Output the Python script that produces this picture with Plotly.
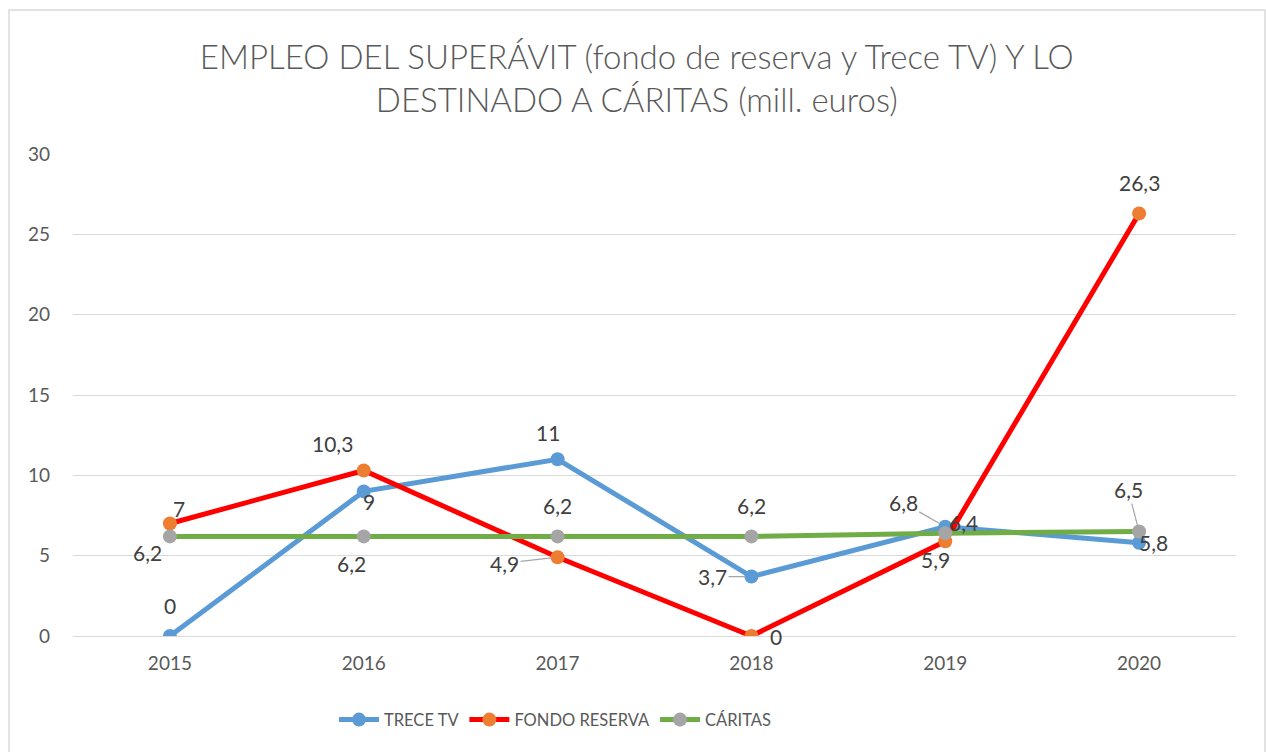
import plotly.graph_objects as go

years = ["2015", "2016", "2017", "2018", "2019", "2020"]
trece_tv = [0, 9, 11, 3.7, 6.8, 5.8]
fondo_reserva = [7, 10.3, 4.9, 0, 5.9, 26.3]
caritas = [6.2, 6.2, 6.2, 6.2, 6.4, 6.5]
series_names = ["TRECE TV", "FONDO RESERVA", "CÁRITAS"]
y_ticks = [0, 5, 10, 15, 20, 25, 30]

line_colors = ["#5B9BD5", "#FF0000", "#70AD47"]
marker_colors = ["#5B9BD5", "#ED7D31", "#A5A5A5"]

# label offsets in screen pixels (dx right, dy down), and whether a leader line is drawn
label_offsets = [
    [(0, -31, False), (5, 10, False), (-10, -27, False), (-39, 0, True), (-42, -24, True), (14, 0, False)],
    [(9, -15, False), (-31, -27, False), (-53, 6, True), (25, 0, False), (-10, 18, False), (0, -31, False)],
    [(-22, 16, False), (-12, 27, False), (0, -31, False), (0, -31, False), (18, -11, False), (-11, -42, True)],
]

FONT = "Lato, 'Open Sans', sans-serif"
fig = go.Figure()
all_series = [trece_tv, fondo_reserva, caritas]
for name, vals, lc, mc in zip(series_names, all_series, line_colors, marker_colors):
    fig.add_trace(go.Scatter(
        x=years, y=vals, name=name, mode="lines+markers",
        line=dict(color=lc, width=5),
        marker=dict(color=mc, size=14),
    ))

for vals, offs in zip(all_series, label_offsets):
    for i, (v, (dx, dy, leader)) in enumerate(zip(vals, offs)):
        txt = f"{v:g}".replace(".", ",")
        if leader:
            fig.add_annotation(
                x=i, y=v, xref="x", yref="y", text=txt, showarrow=True,
                ax=dx, ay=dy, axref="pixel", ayref="pixel",
                arrowhead=0, arrowwidth=1.2, arrowcolor="#A6A6A6",
                standoff=6, font=dict(family=FONT, size=21, color="#404040"),
            )
        else:
            fig.add_annotation(
                x=i, y=v, xref="x", yref="y", text=txt, showarrow=False,
                xshift=dx, yshift=-dy, font=dict(family=FONT, size=21, color="#404040"),
            )

fig.update_layout(
    width=1266, height=752,
    margin=dict(l=73, r=30, t=154, b=116),
    paper_bgcolor="white", plot_bgcolor="white",
    font=dict(family=FONT, color="#595959"),
    title=dict(
        text="EMPLEO DEL SUPERÁVIT (fondo de reserva y Trece TV) Y LO<br>DESTINADO A CÁRITAS (mill. euros)",
        x=0.503, xref="container", xanchor="center",
        y=1 - 69 / 752, yref="container", yanchor="middle",
        font=dict(family=FONT, size=33, color="#595959", weight=300),
    ),
    showlegend=True,
    legend=dict(
        orientation="h", x=(555 - 73) / 1163, xanchor="center", y=-0.174, yanchor="middle",
        font=dict(family=FONT, size=16.5, color="#595959"),
        itemwidth=40,
    ),
    shapes=[dict(
        type="rect", xref="paper", yref="paper",
        x0=(9 - 73) / 1163, x1=(1265 - 73) / 1163,
        y0=-0.4, y1=(636 - 10) / 482,
        line=dict(color="#D9D9D9", width=1.5), fillcolor="rgba(0,0,0,0)", layer="below",
    )],
)
fig.update_xaxes(
    type="category", range=[-0.5, 5.5], showgrid=False, showline=False,
    ticks="", ticklabelstandoff=14,
    tickfont=dict(family=FONT, size=19, color="#595959"),
)
fig.update_yaxes(
    range=[0, 30], tickvals=y_ticks, showgrid=True, gridcolor="#D9D9D9", gridwidth=1.2,
    zeroline=True, zerolinecolor="#D9D9D9", zerolinewidth=1.2, showline=False,
    ticks="", ticklabelstandoff=22,
    tickfont=dict(family=FONT, size=19, color="#595959"),
)

fig.write_html(
    "out.html",
    config={"displayModeBar": False},
    post_script="document.body.style.margin='0';document.body.style.padding='0';",
)
